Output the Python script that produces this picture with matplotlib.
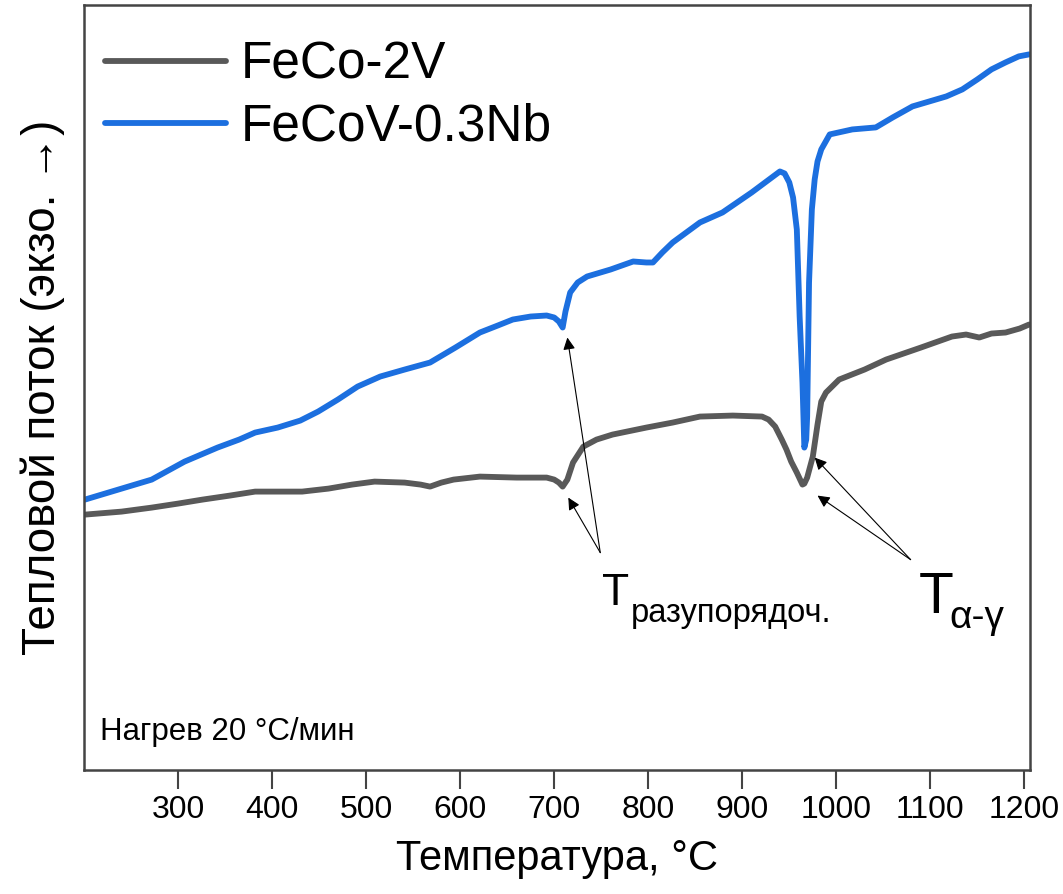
import matplotlib
matplotlib.use("Agg")
import matplotlib.pyplot as plt

# FeCo-2V (grey curve), heat flow in arbitrary units
feco_t = [201, 240, 272, 300, 326, 355, 382, 410, 432, 460, 485, 509, 541, 558,
          568, 580, 593, 621, 660, 692, 700, 705, 709, 714, 720, 731, 745, 762,
          798, 826, 855, 890, 921, 928, 935, 942, 947, 952, 958, 962, 964, 966,
          969, 975, 980, 984, 989, 1003, 1030, 1053, 1090, 1123, 1138, 1152,
          1165, 1180, 1195, 1205]
feco_q = [255, 258, 262, 266, 270, 274, 278, 278, 278, 281, 285, 288, 287, 285,
          283, 287, 290, 293, 292, 292, 290, 287, 283, 290, 307, 323, 330, 335,
          342, 347, 353, 354, 353, 350, 343, 330, 320, 308, 297, 289, 285, 286,
          292, 313, 345, 368, 377, 390, 400, 410, 422, 433, 435, 432, 436, 437,
          441, 445]

# FeCoV-0.3Nb (blue curve)
nb_t = [201, 240, 272, 307, 342, 365, 382, 406, 430, 449, 470, 491, 515, 541,
        568, 595, 621, 640, 656, 675, 692, 700, 705, 709, 712, 717, 725, 735,
        760, 784, 798, 805, 815, 826, 855, 879, 910, 940, 945, 950, 954, 958,
        961, 964, 966, 968, 969, 971, 974, 977, 980, 984, 993, 1017, 1042,
        1060, 1081, 1117, 1134, 1150, 1165, 1180, 1194, 1205]
nb_q = [270, 281, 290, 308, 322, 330, 337, 342, 349, 358, 370, 383, 393, 400,
        407, 422, 437, 444, 450, 453, 454, 452, 448, 442, 458, 477, 487, 493,
        500, 508, 507, 507, 517, 527, 547, 557, 577, 598, 596, 587, 572, 540,
        453, 387, 322, 330, 353, 487, 560, 590, 608, 620, 635, 640, 642, 652,
        663, 673, 680, 690, 700, 707, 713, 715]

x_ticks = [300, 400, 500, 600, 700, 800, 900, 1000, 1100, 1200]

REG = ["Liberation Sans", "DejaVu Sans"]

fig = plt.figure(figsize=(10.63, 8.94), dpi=100)
ax = fig.add_axes([0.079, 0.139, 0.890, 0.855])

ax.plot(feco_t, feco_q, color="#595959", lw=4.2, label="FeCo-2V",
        solid_joinstyle="round", solid_capstyle="round")
ax.plot(nb_t, nb_q, color="#1c6fdf", lw=4.2, label="FeCoV-0.3Nb",
        solid_joinstyle="round", solid_capstyle="round")

ax.set_xlim(200, 1206)
ax.set_ylim(0, 764)
ax.set_xticks(x_ticks)
ax.set_yticks([])
ax.tick_params(axis="x", direction="out", length=14, width=1.5, color="#444444",
               labelsize=23, pad=4)
for lab in ax.get_xticklabels():
    lab.set_family(REG)
for sp in ax.spines.values():
    sp.set_color("#444444")
    sp.set_linewidth(1.8)

ax.set_xlabel("Температура, °C", fontsize=30, family=REG, labelpad=10)
ax.set_ylabel("Тепловой поток (экзо. →)", fontsize=33, family=REG, labelpad=14)

ax.text(0.017, 0.03, "Нагрев 20 °C/мин", transform=ax.transAxes, fontsize=22.5,
        family=REG, va="bottom", ha="left")

leg = ax.legend(loc="upper left", bbox_to_anchor=(0.022, 0.954), frameon=False,
                prop={"family": REG, "size": 37}, handlelength=2.35,
                handletextpad=0.3, labelspacing=0.26, borderpad=0, borderaxespad=0)

arrow = dict(arrowstyle="-|>", color="black", lw=0.8, mutation_scale=18,
             shrinkA=0, shrinkB=0)
for tgt in [(714, 432), (715, 272)]:
    ax.annotate("", xy=tgt, xytext=(749, 217), arrowprops=arrow)
for tgt in [(977, 312), (980, 274)]:
    ax.annotate("", xy=tgt, xytext=(1079, 210), arrowprops=arrow)

ax.text(751, 165, "T", fontsize=32, family=REG, va="baseline", ha="left")
ax.text(782, 148, "разупорядоч.", fontsize=23.5, family=REG, va="baseline", ha="left")
ax.text(1088, 157, "T", fontsize=41, family=REG, va="baseline", ha="left")
ax.text(1120, 142, "α-γ", fontsize=28, family=REG, va="baseline", ha="left")

fig.savefig("out.png", dpi=100)
